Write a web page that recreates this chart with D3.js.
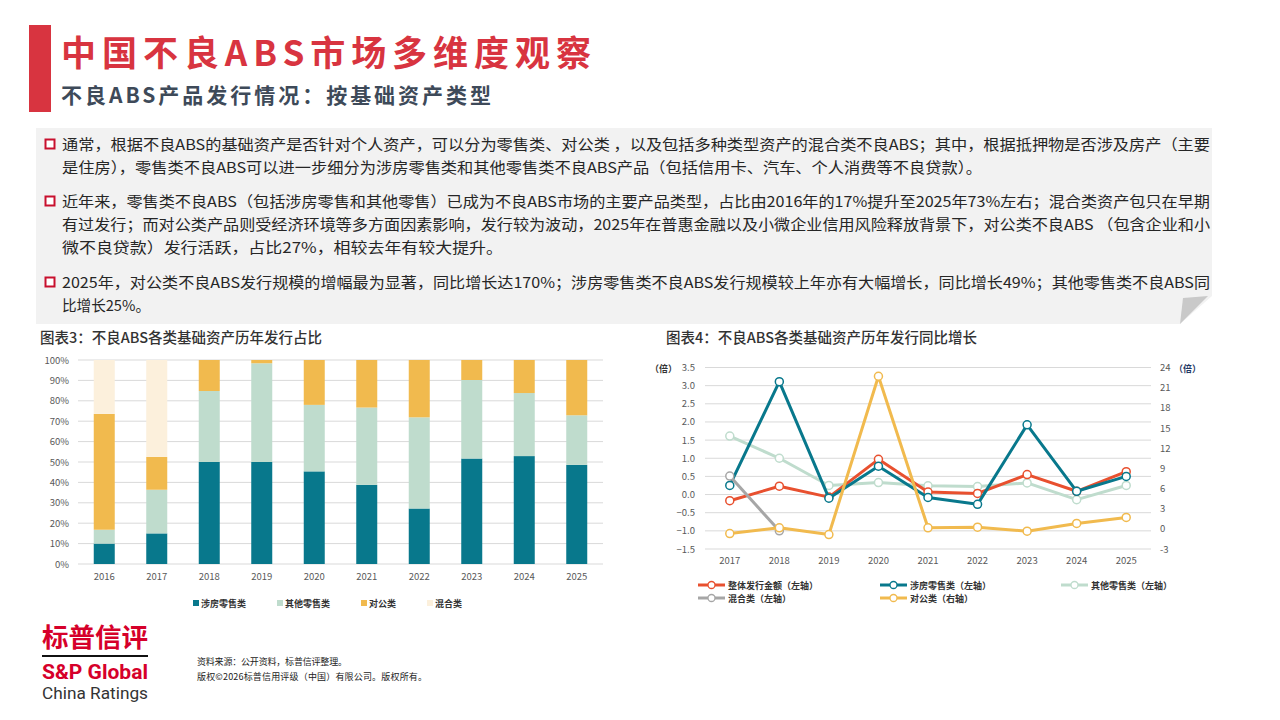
<!DOCTYPE html>
<html>
<head>
<meta charset="utf-8">
<script src="https://cdn.jsdelivr.net/npm/d3@7"></script>
<style>
  html, body { margin: 0; padding: 0; background: #fff; }
  svg { display: block; font-family: "Noto Sans CJK SC", "Noto Sans", sans-serif; }
</style>
</head>
<body>
<svg id="page" width="1280" height="720"></svg>
<script>
// ---- data: share of issuance by underlying asset (%) ----
const barYears = ["2016", "2017", "2018", "2019", "2020", "2021", "2022", "2023", "2024", "2025"];
const housingShare = [10, 15, 50, 50, 45.4, 38.8, 27.2, 51.7, 52.9, 48.6];
const otherRetailShare = [6.8, 21.4, 34.8, 48.4, 32.6, 37.9, 44.7, 38.5, 30.9, 24.3];
const corporateShare = [56.8, 16.1, 15.2, 1.6, 22, 23.3, 28.1, 9.8, 16.2, 27.1];
const mixedShare = [26.4, 47.5, 0, 0, 0, 0, 0, 0, 0, 0];
const barSeriesNames = ["涉房零售类", "其他零售类", "对公类", "混合类"];
const shareTicks = [0, 10, 20, 30, 40, 50, 60, 70, 80, 90, 100];

// ---- data: year-on-year growth (times) ----
const lineYears = ["2017", "2018", "2019", "2020", "2021", "2022", "2023", "2024", "2025"];
const totalGrowth = [-0.17, 0.23, -0.07, 0.97, 0.07, 0.03, 0.55, 0.09, 0.63];
const housingGrowth = [0.25, 3.11, -0.1, 0.78, -0.08, -0.27, 1.92, 0.09, 0.5];
const otherRetailGrowth = [1.61, 1.0, 0.25, 0.33, 0.24, 0.22, 0.32, -0.14, 0.25];
const mixedGrowth = [0.51, -1.0, null, null, null, null, null, null, null];
const corporateGrowth = [-0.7, 0.15, -0.85, 22.7, 0.15, 0.25, -0.35, 0.8, 1.7];
const leftTicks = [-1.5, -1.0, -0.5, 0.0, 0.5, 1.0, 1.5, 2.0, 2.5, 3.0, 3.5];
const rightTicks = [-3, 0, 3, 6, 9, 12, 15, 18, 21, 24];

const svg = d3.select("#page");

// ---- header ----
svg.append("rect").attr("x", 29).attr("y", 25).attr("width", 22).attr("height", 87).attr("fill", "#d83440");
svg.append("text").text("中国不良ABS市场多维度观察")
  .attr("x", 61).attr("y", 66).attr("fill", "#d83440")
  .attr("font-size", 35).attr("font-weight", 700)
  .attr("textLength", 530).attr("lengthAdjust", "spacing");
svg.append("text").text("不良ABS产品发行情况：按基础资产类型")
  .attr("x", 61).attr("y", 103).attr("fill", "#3e4a59")
  .attr("font-size", 21).attr("font-weight", 700)
  .attr("textLength", 430).attr("lengthAdjust", "spacing");

// ---- text box with folded corner ----
svg.append("path").attr("d", "M36 128 H1212 V296 L1180 324 H36 Z").attr("fill", "#f2f2f2");
svg.append("path").attr("d", "M1183 298 L1208 296 L1180 324 Z").attr("fill", "#c9c9c9");

const paragraphs = [
  { y: 150, lines: [
    ["通常，根据不良ABS的基础资产是否针对个人资产，可以分为零售类、对公类 ，以及包括多种类型资产的混合类不良ABS；其中，根据抵押物是否涉及房产（主要", 1148],
    ["是住房），零售类不良ABS可以进一步细分为涉房零售类和其他零售类不良ABS产品（包括信用卡、汽车、个人消费等不良贷款）。", 920]
  ]},
  { y: 207, lines: [
    ["近年来，零售类不良ABS（包括涉房零售和其他零售）已成为不良ABS市场的主要产品类型，占比由2016年的17%提升至2025年73%左右；混合类资产包只在早期", 1148],
    ["有过发行；而对公类产品则受经济环境等多方面因素影响，发行较为波动，2025年在普惠金融以及小微企业信用风险释放背景下，对公类不良ABS （包含企业和小", 1148],
    ["微不良贷款）发行活跃，占比27%，相较去年有较大提升。", 441]
  ]},
  { y: 288, lines: [
    ["2025年，对公类不良ABS发行规模的增幅最为显著，同比增长达170%；涉房零售类不良ABS发行规模较上年亦有大幅增长，同比增长49%；其他零售类不良ABS同", 1148],
    ["比增长25%。", 88]
  ]}
];
paragraphs.forEach(p => {
  svg.append("rect").attr("x", 45.5).attr("y", p.y - 10.5).attr("width", 9).attr("height", 9)
    .attr("fill", "#fff").attr("stroke", "#c8102e").attr("stroke-width", 2);
  p.lines.forEach((l, i) => {
    svg.append("text").text(l[0])
      .attr("x", 62).attr("y", p.y + i * 23)
      .attr("font-size", 15).attr("fill", "#262626")
      .attr("textLength", l[1]).attr("lengthAdjust", "spacingAndGlyphs");
  });
});

// ---- chart 3: stacked 100% bars ----
svg.append("text").text("图表3：不良ABS各类基础资产历年发行占比")
  .attr("x", 40).attr("y", 343).attr("font-size", 14.5).attr("font-weight", 500).attr("fill", "#333");

const barColors = ["#08788c", "#bfdccd", "#f1ba4e", "#fcf0dc"];
const barRows = barYears.map((y, i) => ({
  year: y, "涉房零售类": housingShare[i], "其他零售类": otherRetailShare[i],
  "对公类": corporateShare[i], "混合类": mixedShare[i]
}));
const stack = d3.stack().keys(barSeriesNames)(barRows);

const bx = d3.scaleBand().domain(barYears).range([78, 603]).paddingInner(0.6).paddingOuter(0.3);
const by = d3.scaleLinear().domain([0, 100]).range([564, 360]);

const g3 = svg.append("g");
g3.append("g").selectAll("line").data(shareTicks).join("line")
  .attr("x1", 78).attr("x2", 603)
  .attr("y1", d => by(d)).attr("y2", d => by(d))
  .attr("stroke", "#d9d9d9").attr("stroke-width", 1);
g3.append("g").selectAll("text").data(shareTicks).join("text")
  .attr("x", 69).attr("y", d => by(d) + 3.5)
  .attr("text-anchor", "end").attr("font-size", 9.5).attr("fill", "#595959")
  .text(d => d + "%");

g3.append("g").selectAll("g").data(stack).join("g")
  .attr("fill", (d, i) => barColors[i])
  .selectAll("rect").data(d => d).join("rect")
  .attr("x", d => bx(d.data.year))
  .attr("width", bx.bandwidth())
  .attr("y", d => by(d[1]))
  .attr("height", d => by(d[0]) - by(d[1]));

g3.append("g").selectAll("text").data(barYears).join("text")
  .attr("x", d => bx(d) + bx.bandwidth() / 2).attr("y", 580)
  .attr("text-anchor", "middle").attr("font-size", 9.5).attr("fill", "#595959")
  .text(d => d);

const barLegendX = [193, 277, 361, 427];
barSeriesNames.forEach((name, i) => {
  g3.append("rect").attr("x", barLegendX[i]).attr("y", 600).attr("width", 6).attr("height", 6).attr("fill", barColors[i]);
  g3.append("text").text(name).attr("x", barLegendX[i] + 8).attr("y", 606.5)
    .attr("font-size", 9).attr("font-weight", 700).attr("fill", "#333");
});

// ---- chart 4: yoy growth lines, dual axis ----
svg.append("text").text("图表4：不良ABS各类基础资产历年发行同比增长")
  .attr("x", 666).attr("y", 343).attr("font-size", 14.5).attr("font-weight", 500).attr("fill", "#333");

const lx = d3.scaleBand().domain(lineYears).range([705, 1151]);
const ly = d3.scaleLinear().domain([-1.5, 3.5]).range([549, 367.5]);
const ry = d3.scaleLinear().domain([-3, 24]).range([549, 367.5]);

const g4 = svg.append("g");
g4.append("g").selectAll("line").data(leftTicks).join("line")
  .attr("x1", 705).attr("x2", 1151)
  .attr("y1", d => ly(d)).attr("y2", d => ly(d))
  .attr("stroke", "#d9d9d9").attr("stroke-width", 1);
g4.append("g").selectAll("text").data(leftTicks).join("text")
  .attr("x", 695).attr("y", d => ly(d) + 3.5)
  .attr("text-anchor", "end").attr("font-size", 9.5).attr("fill", "#595959")
  .text(d => d3.format(".1f")(d));
g4.append("g").selectAll("text").data(rightTicks).join("text")
  .attr("x", 1160).attr("y", d => ry(d) + 3.5)
  .attr("font-size", 9.5).attr("fill", "#595959")
  .text(d => d);
g4.append("text").text("（倍）").attr("x", 650).attr("y", 372)
  .attr("font-size", 9).attr("font-weight", 700).attr("fill", "#333");
g4.append("text").text("（倍）").attr("x", 1174).attr("y", 372)
  .attr("font-size", 9).attr("font-weight", 700).attr("fill", "#1f3864");
g4.append("g").selectAll("text").data(lineYears).join("text")
  .attr("x", d => lx(d) + lx.bandwidth() / 2).attr("y", 564)
  .attr("text-anchor", "middle").attr("font-size", 9.5).attr("fill", "#595959")
  .text(d => d);

const lineSeries = [
  { name: "其他零售类（左轴）", values: otherRetailGrowth, color: "#bfdccd", y: ly },
  { name: "整体发行金额（左轴）", values: totalGrowth, color: "#e8502f", y: ly },
  { name: "涉房零售类（左轴）", values: housingGrowth, color: "#08788c", y: ly },
  { name: "混合类（左轴）", values: mixedGrowth, color: "#a6a6a6", y: ly },
  { name: "对公类（右轴）", values: corporateGrowth, color: "#f1ba4e", y: ry }
];
lineSeries.forEach(s => {
  const pts = lineYears.map((yr, i) => ({ yr, v: s.values[i] })).filter(d => d.v !== null);
  const line = d3.line().x(d => lx(d.yr) + lx.bandwidth() / 2).y(d => s.y(d.v));
  g4.append("path").datum(pts).attr("d", line)
    .attr("fill", "none").attr("stroke", s.color).attr("stroke-width", 3).attr("stroke-linejoin", "round");
  g4.append("g").selectAll("circle").data(pts).join("circle")
    .attr("cx", d => lx(d.yr) + lx.bandwidth() / 2).attr("cy", d => s.y(d.v)).attr("r", 4)
    .attr("fill", "#fff").attr("stroke", s.color).attr("stroke-width", 1.5);
});

// legend in original order
const lineLegend = [
  { s: lineSeries[1], x: 698, y: 585 },
  { s: lineSeries[2], x: 880, y: 585 },
  { s: lineSeries[0], x: 1061, y: 585 },
  { s: lineSeries[3], x: 698, y: 598 },
  { s: lineSeries[4], x: 880, y: 598 }
];
lineLegend.forEach(l => {
  g4.append("line").attr("x1", l.x).attr("x2", l.x + 27).attr("y1", l.y).attr("y2", l.y)
    .attr("stroke", l.s.color).attr("stroke-width", 3);
  g4.append("circle").attr("cx", l.x + 13.5).attr("cy", l.y).attr("r", 3.5)
    .attr("fill", "#fff").attr("stroke", l.s.color).attr("stroke-width", 1.3);
  g4.append("text").text(l.s.name).attr("x", l.x + 30).attr("y", l.y + 3.5)
    .attr("font-size", 9).attr("font-weight", 700).attr("fill", "#333");
});

// ---- footer ----
svg.append("text").text("标普信评").attr("x", 42).attr("y", 647)
  .attr("font-size", 26).attr("font-weight", 700).attr("fill", "#d6002a")
  .attr("textLength", 106).attr("lengthAdjust", "spacingAndGlyphs");
svg.append("line").attr("x1", 42).attr("x2", 148).attr("y1", 656).attr("y2", 656)
  .attr("stroke", "#111").attr("stroke-width", 2);
svg.append("text").text("S&P Global").attr("x", 42).attr("y", 679)
  .attr("font-family", "Roboto, sans-serif").attr("font-size", 20).attr("font-weight", 700)
  .attr("fill", "#d6002a").attr("textLength", 106).attr("lengthAdjust", "spacingAndGlyphs");
svg.append("text").text("China Ratings").attr("x", 42).attr("y", 699)
  .attr("font-family", "Roboto, sans-serif").attr("font-size", 17).attr("fill", "#333")
  .attr("textLength", 106).attr("lengthAdjust", "spacingAndGlyphs");
svg.append("text").text("资料来源：公开资料，标普信评整理。").attr("x", 197).attr("y", 665)
  .attr("font-size", 9).attr("fill", "#222").attr("textLength", 150).attr("lengthAdjust", "spacing");
svg.append("text").text("版权©2026标普信用评级（中国）有限公司。版权所有。").attr("x", 197).attr("y", 680)
  .attr("font-size", 9).attr("fill", "#222").attr("textLength", 230).attr("lengthAdjust", "spacing");
</script>
</body>
</html>
